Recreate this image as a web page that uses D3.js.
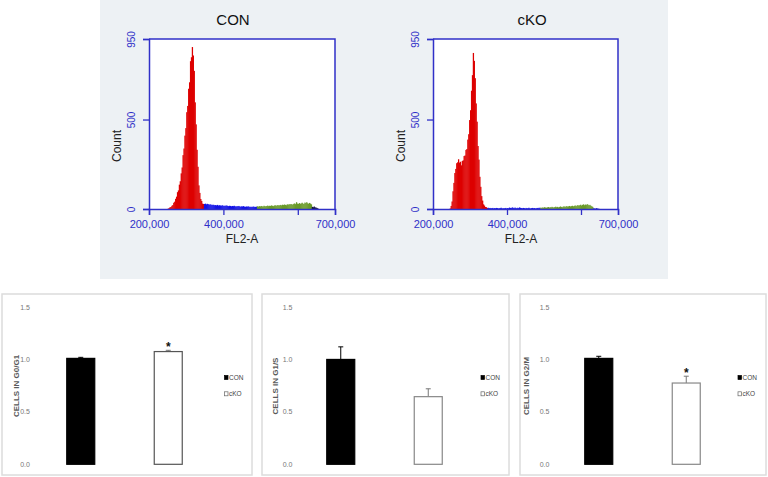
<!DOCTYPE html>
<html><head><meta charset="utf-8">
<script src="https://cdn.jsdelivr.net/npm/d3@7"></script>
<style>body{margin:0;background:#fff}svg{display:block}</style>
</head><body>
<svg id="c" width="768" height="477"></svg>
<script>
// ---------- DATA ----------
const histTitles = ["CON", "cKO"];
const binStart = 245000;
const binWidth = 2500;
const conCounts = [0,0,
 2,5,10,11,18,22,35,41,57,69,94,104,136,155,199,232,301,338,410,452,541,576,672,708,826,848,905,858,772,596,473,331,236,132,90,56,45,30,28,
 28,30,26,29,27,24,26,25,22,24,23,21,22,20,23,19,21,20,18,21,19,17,19,18,20,17,16,18,17,15,17,16,18,15,14,16,15,17,14,13,15,14,16,13,12,14,13,15,12,13,11,13,12,14,11,12,13,
 15,13,16,14,17,15,14,18,16,15,17,19,16,18,17,20,18,16,19,21,18,20,22,19,21,23,20,24,22,25,23,21,26,24,27,25,28,26,24,29,31,27,38,30,28,33,29,31,35,30,28,36,33,38,32,29,34,30,26,
 12,10,14,9,8,6,3];
const ckoCounts = [
 3,17,42,99,146,201,224,256,261,278,259,264,244,268,272,296,299,330,335,388,418,497,552,661,748,872,828,731,590,488,352,276,180,124,72,47,26,19,11,10,6,
 7,5,6,4,5,6,3,5,4,6,5,3,4,5,7,4,3,5,4,6,3,5,4,8,6,5,9,7,5,8,6,4,7,5,9,6,5,4,6,5,3,6,4,5,7,4,3,5,6,4,5,3,4,6,5,7,6,
 8,6,9,7,10,8,7,9,11,8,10,9,12,10,8,11,13,10,12,9,11,14,12,10,13,15,12,14,16,13,15,17,14,16,18,15,17,20,16,19,22,18,21,24,19,23,26,21,25,22,27,24,20,23,18,15,12,
 4,3,2,5,3,2,1];
const conGates = [347500, 490000, 637500];
const ckoGates = [347500, 490000, 632500];
const histXTicks = [200000, 400000, 600000, 700000];
const histXLabels = [200000, 400000, 700000];
const histYTicks = [0, 500, 950];

const phases = ["G0/G1", "G1/S", "G2/M"];
const groups = ["CON", "cKO"];
const conMeans = [1.01, 1.00, 1.01];
const conErr   = [0.01, 0.12, 0.02];
const ckoMeans = [1.075, 0.645, 0.775];
const ckoErr   = [0.012, 0.075, 0.065];
const significant = [true, false, true];
const barYTicks = [0, 0.5, 1.0, 1.5];

// ---------- DRAW ----------
const svg = d3.select("#c");
const axisBlue = "#3030c8";
const font = "'Liberation Sans', Arial, sans-serif";

svg.append("rect").attr("x",100).attr("y",0).attr("width",568).attr("height",279).attr("fill","#edf1f4");

const histLayouts = [
  {x0:149, x1:335, title:233, fl:242, count:121, counts:conCounts, gates:conGates, tail:"#101040"},
  {x0:433, x1:618, title:532, fl:521, count:405, counts:ckoCounts, gates:ckoGates, tail:"#2828c0"}
];
const phaseColors = ["#dd0000", "#1414e6", "#6a9a2a"];

histLayouts.forEach((L, k) => {
  const x = d3.scaleLinear().domain([200000,700000]).range([L.x0, L.x1]);
  const y = d3.scaleLinear().domain([0,950]).range([209,39]);
  const g = svg.append("g");
  g.append("rect").attr("x",L.x0).attr("y",39).attr("width",L.x1-L.x0).attr("height",170).attr("fill","#fff");
  const bins = L.counts.map((c,i)=>({x:binStart+i*binWidth, c}));
  const colorOf = v => v < L.gates[0] ? phaseColors[0] : v < L.gates[1] ? phaseColors[1] : v < L.gates[2] ? phaseColors[2] : L.tail;
  g.selectAll("rect.b").data(bins).join("rect").attr("class","b")
    .attr("x", d=>x(d.x)).attr("width", d=>x(d.x+binWidth)-x(d.x)+0.35)
    .attr("y", d=>y(d.c)).attr("height", d=>y(0)-y(d.c))
    .attr("fill", d=>colorOf(d.x+binWidth/2));
  g.append("path").attr("d",`M${L.x0},39H${L.x1}V209`).attr("fill","none").attr("stroke",axisBlue).attr("stroke-width",1.5);
  const xa = g.append("g").attr("transform","translate(0,209)")
    .call(d3.axisBottom(x).tickValues(histXTicks).tickSize(6).tickPadding(5)
      .tickFormat(v => histXLabels.includes(v) ? d3.format(",")(v) : ""));
  const ya = g.append("g").attr("transform",`translate(${L.x0},0)`)
    .call(d3.axisLeft(y).tickValues(histYTicks).tickSize(6));
  [xa, ya].forEach(a => {
    a.select(".domain").attr("stroke",axisBlue).attr("stroke-width",1.5);
    a.selectAll(".tick line").attr("stroke",axisBlue).attr("stroke-width",1.3);
    a.selectAll("text").attr("fill",axisBlue).attr("font-family",font).attr("font-size",11);
  });
  ya.selectAll("text").attr("transform","rotate(-90)").attr("x",0).attr("y",-14).attr("dy",0)
    .attr("text-anchor","middle").attr("font-size",10);
  g.append("text").attr("x",L.title).attr("y",25).attr("text-anchor","middle")
    .attr("font-family",font).attr("font-size",15).attr("fill","#111").text(histTitles[k]);
  g.append("text").attr("x",L.fl).attr("y",243).attr("text-anchor","middle")
    .attr("font-family",font).attr("font-size",12).attr("fill","#222").text("FL2-A");
  g.append("text").attr("transform",`translate(${L.count},146) rotate(-90)`).attr("text-anchor","middle")
    .attr("font-family",font).attr("font-size",12).attr("fill","#222").text("Count");
});

// ---------- BAR PANELS ----------
const panels = [
  {left:2, right:252, lab:23, tdx:16.5, leg:222.5, ckoStroke:"#555"},
  {left:262, right:509, lab:25.5, tdx:16, leg:219, ckoStroke:"#888"},
  {left:520, right:766, lab:24.5, tdx:8.5, leg:218, ckoStroke:"#888"}
];
const yB = d3.scaleLinear().domain([0,1.5]).range([464.3,307]);
const barW = 28;

panels.forEach((P, i) => {
  const g = svg.append("g");
  g.append("rect").attr("x",P.left).attr("y",294).attr("width",P.right-P.left).attr("height",181)
    .attr("fill","#fff").attr("stroke","#dcdcdc").attr("stroke-width",1.5);
  const xB = d3.scalePoint().domain(groups).range([P.left+35, P.left+210]).padding(0.5);
  barYTicks.forEach(t => {
    g.append("text").attr("x",P.left+P.lab).attr("y",yB(t)+2.5).attr("text-anchor","middle")
      .attr("font-family",font).attr("font-size",7).attr("fill","#777").text(d3.format(".1f")(t));
  });
  g.append("text").attr("transform",`translate(${P.left+P.tdx},386) rotate(-90)`).attr("text-anchor","middle")
    .attr("font-family",font).attr("font-size",8).attr("font-weight","bold").attr("fill","#595959")
    .text("CELLS IN " + phases[i]);
  const data = [
    {grp:"CON", v:conMeans[i], e:conErr[i], fill:"#000", stroke:"#000", err:"#000"},
    {grp:"cKO", v:ckoMeans[i], e:ckoErr[i], fill:"#fff", stroke:P.ckoStroke, err:"#777"}
  ];
  data.forEach(d => {
    const cx = xB(d.grp);
    g.append("line").attr("x1",cx).attr("x2",cx).attr("y1",yB(d.v)).attr("y2",yB(d.v+d.e)).attr("stroke",d.err).attr("stroke-width",1);
    g.append("line").attr("x1",cx-2.5).attr("x2",cx+2.5).attr("y1",yB(d.v+d.e)).attr("y2",yB(d.v+d.e)).attr("stroke",d.err).attr("stroke-width",1);
    g.append("rect").attr("x",cx-barW/2).attr("y",yB(d.v)).attr("width",barW).attr("height",yB(0)-yB(d.v))
      .attr("fill",d.fill).attr("stroke",d.stroke).attr("stroke-width",1.2);
  });
  if (significant[i]) {
    const cx = xB("cKO");
    g.append("text").attr("x",cx).attr("y",yB(ckoMeans[i]+ckoErr[i])+1).attr("text-anchor","middle")
      .attr("font-family",font).attr("font-size",12).attr("font-weight","bold").attr("fill","#111").text("*");
  }
  groups.forEach((gName, j) => {
    const ly = 377.5 + j*16.3;
    g.append("rect").attr("x",P.left+P.leg).attr("y",ly-2).attr("width",3.5).attr("height",4)
      .attr("fill", j===0 ? "#000" : "#fff").attr("stroke", j===0 ? "#000" : "#666").attr("stroke-width",0.7);
    g.append("text").attr("x",P.left+P.leg+4.5).attr("y",ly+2.5)
      .attr("font-family",font).attr("font-size",6.5).attr("fill","#444").text(gName);
  });
});
</script>
</body></html>
